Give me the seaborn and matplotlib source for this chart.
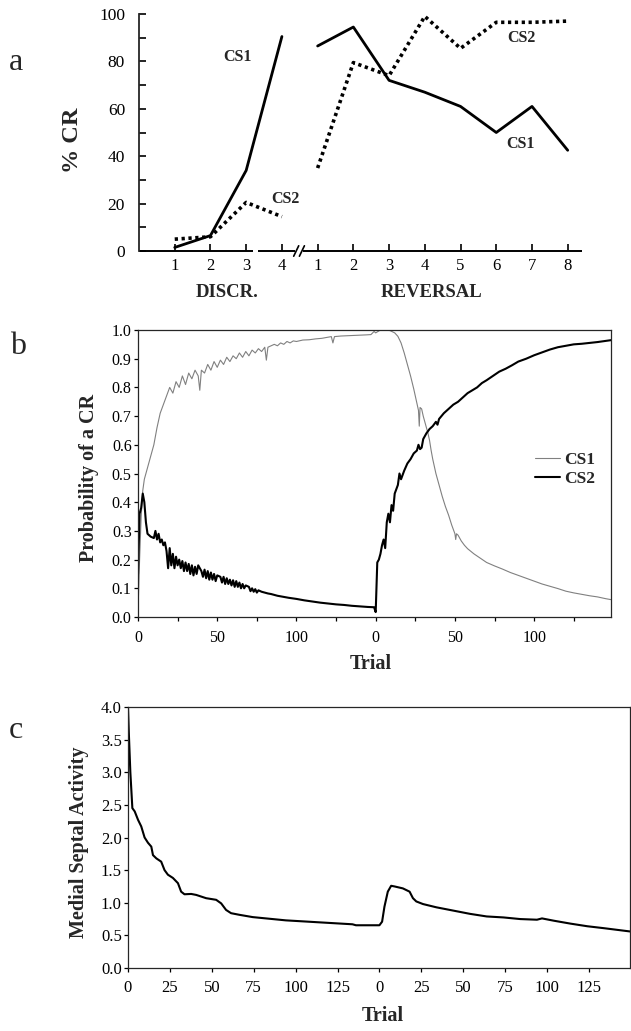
import numpy as np
import pandas as pd
import matplotlib
matplotlib.use("Agg")
import matplotlib.pyplot as plt
from matplotlib.lines import Line2D
import seaborn as sns

# ---------------- Panel a data ----------------
sessions_discr = [1, 2, 3, 4]
sessions_rev = [1, 2, 3, 4, 5, 6, 7, 8]
a_cs1_discr = [1.5, 6.5, 34, 90.5]
a_cs2_discr = [5, 6, 20.5, 14.5]
a_cs1_rev = [86.5, 94.5, 72, 67, 61, 50, 61, 42.5]
a_cs2_rev = [35, 79.5, 74, 99, 85.5, 96.5, 96.5, 97]
a_tick_labels = ["1", "2", "3", "4", "1", "2", "3", "4", "5", "6", "7", "8"]

# ---------------- Panel b data ----------------
b_cs1_discr_t = [0, 1, 2, 3, 4, 6, 8, 10, 12, 14, 16, 18, 20, 22, 24, 26, 28, 30, 32, 34, 36, 38, 39,
                 40, 42, 44, 46, 48, 50, 52, 54, 56, 58, 60, 62, 64, 66, 68, 70, 72, 74, 76, 78, 80, 81,
                 82, 84, 86, 88, 90, 92, 94, 96, 98, 100, 104, 108, 112, 116, 120, 122, 123, 124, 128,
                 132, 136, 140, 144, 147, 149]
b_cs1_discr_v = [0.02, 0.2, 0.35, 0.44, 0.48, 0.52, 0.56, 0.60, 0.66, 0.71, 0.74, 0.77, 0.80, 0.78, 0.82,
                 0.80, 0.84, 0.81, 0.85, 0.83, 0.86, 0.84, 0.79, 0.86, 0.85, 0.88, 0.86, 0.89, 0.87, 0.895,
                 0.88, 0.905, 0.89, 0.91, 0.90, 0.92, 0.905, 0.925, 0.91, 0.93, 0.92, 0.935, 0.925, 0.94,
                 0.895, 0.94, 0.945, 0.95, 0.945, 0.955, 0.95, 0.96, 0.955, 0.962, 0.96, 0.965, 0.966,
                 0.969, 0.971, 0.975, 0.977, 0.955, 0.977, 0.979, 0.98, 0.981, 0.982, 0.983, 0.984, 0.995]
b_cs2_discr_t = [0, 1, 2, 3, 4, 5, 6, 8, 10, 11, 12, 13, 14, 15, 16, 17, 18, 19, 20, 21, 22, 23, 24, 25,
                 26, 27, 28, 29, 30, 31, 32, 33, 34, 35, 36, 37, 38, 40, 41, 42, 43, 44, 45, 46, 47, 48,
                 49, 50, 52, 53, 54, 55, 56, 57, 58, 59, 60, 61, 62, 63, 64, 65, 66, 67, 68, 70, 71, 72,
                 73, 74, 75, 76, 78, 80, 82, 84, 86, 88, 90, 95, 100, 105, 110, 115, 120, 125, 130, 135,
                 140, 145, 149]
b_cs2_discr_v = [0.15, 0.36, 0.38, 0.43, 0.40, 0.33, 0.29, 0.28, 0.275, 0.30, 0.27, 0.29, 0.26, 0.27,
                 0.25, 0.26, 0.23, 0.17, 0.24, 0.18, 0.22, 0.17, 0.21, 0.18, 0.20, 0.17, 0.195, 0.16, 0.19,
                 0.16, 0.185, 0.15, 0.18, 0.145, 0.175, 0.15, 0.18, 0.16, 0.14, 0.165, 0.135, 0.16, 0.13,
                 0.155, 0.13, 0.15, 0.125, 0.145, 0.14, 0.12, 0.14, 0.115, 0.135, 0.115, 0.13, 0.11,
                 0.128, 0.105, 0.125, 0.105, 0.12, 0.10, 0.115, 0.10, 0.11, 0.105, 0.09, 0.10, 0.088,
                 0.097, 0.085, 0.093, 0.088, 0.085, 0.082, 0.08, 0.077, 0.074, 0.072, 0.067, 0.063,
                 0.058, 0.054, 0.05, 0.047, 0.044, 0.042, 0.039, 0.037, 0.035, 0.034]
b_cs1_rev_t = [0, 3, 6, 9, 12, 14, 16, 18, 20, 22, 24, 26, 27, 27.5, 28, 29, 30, 31, 32, 33, 34, 35, 36,
               38, 40, 42, 44, 46, 48, 50, 50.5, 51, 52, 54, 56, 58, 62, 66, 70, 75, 80, 85, 90, 95,
               100, 105, 110, 115, 120, 125, 130, 135, 140, 145, 149]
b_cs1_rev_v = [0.99, 1.0, 1.0, 0.998, 0.99, 0.978, 0.955, 0.92, 0.88, 0.84, 0.795, 0.745, 0.72, 0.665,
               0.73, 0.725, 0.70, 0.68, 0.66, 0.64, 0.615, 0.58, 0.55, 0.50, 0.46, 0.42, 0.385, 0.355,
               0.32, 0.29, 0.27, 0.29, 0.285, 0.265, 0.25, 0.238, 0.22, 0.205, 0.19, 0.178, 0.167,
               0.155, 0.145, 0.135, 0.125, 0.115, 0.107, 0.099, 0.09, 0.084, 0.079, 0.074, 0.07,
               0.064, 0.06]
b_cs2_rev_t = [0, 1, 2, 3, 4, 5, 6, 7, 8, 9, 10, 11, 12, 14, 15, 16, 18, 20, 22, 24, 26, 27, 28, 29, 30,
               32, 34, 36, 38, 39, 40, 43, 46, 49, 52, 55, 58, 61, 64, 67, 70, 74, 78, 82, 86, 90, 95,
               100, 105, 110, 115, 120, 125, 130, 135, 140, 145, 149]
b_cs2_rev_v = [0.017, 0.19, 0.20, 0.22, 0.25, 0.27, 0.24, 0.33, 0.36, 0.33, 0.39, 0.37, 0.43, 0.46,
               0.50, 0.48, 0.51, 0.535, 0.55, 0.57, 0.58, 0.60, 0.585, 0.59, 0.62, 0.64, 0.655, 0.665,
               0.68, 0.67, 0.69, 0.71, 0.725, 0.74, 0.75, 0.765, 0.78, 0.79, 0.80, 0.815, 0.825, 0.84,
               0.855, 0.865, 0.877, 0.89, 0.90, 0.912, 0.922, 0.932, 0.94, 0.945, 0.95, 0.952, 0.955,
               0.958, 0.962, 0.965]

# ---------------- Panel c data ----------------
c_discr_t = [0, 0.5, 1.4, 2.6, 4, 6, 7.9, 9.9, 11.9, 13.9, 14.9, 16.9, 19.8, 21.8, 23.8, 26.8, 29.8,
             31.7, 33.7, 37.7, 40.7, 46.6, 52.6, 55.6, 58.5, 61.5, 66.5, 74.4, 84.3, 94.2, 104.2, 114,
             124, 133.9, 136, 149]
c_discr_v = [4.0, 3.6, 3.0, 2.45, 2.4, 2.27, 2.17, 2.0, 1.92, 1.86, 1.73, 1.68, 1.63, 1.50, 1.43, 1.38,
             1.30, 1.17, 1.13, 1.135, 1.12, 1.07, 1.045, 0.99, 0.89, 0.84, 0.815, 0.78, 0.755, 0.73,
             0.715, 0.70, 0.685, 0.67, 0.655, 0.655]
c_rev_t = [0, 1.6, 3, 5, 7, 9, 14, 18, 20, 22, 26, 34, 44, 54, 64, 74, 84, 94, 97, 104, 114, 124, 134,
           149.5]
c_rev_v = [0.655, 0.71, 0.94, 1.17, 1.26, 1.25, 1.22, 1.17, 1.07, 1.02, 0.98, 0.93, 0.88, 0.83, 0.79,
           0.775, 0.75, 0.74, 0.76, 0.725, 0.68, 0.64, 0.61, 0.56]

PHASE_LEN = 150
N_DISCR = len(sessions_discr)

sns.set_theme(style="ticks")
plt.rcParams['font.family'] = ['Liberation Serif', 'DejaVu Serif']
plt.rcParams['axes.linewidth'] = 1.0
plt.rcParams['xtick.color'] = 'black'
plt.rcParams['ytick.color'] = 'black'

W, H = 631, 1031
fig = plt.figure(figsize=(W / 100, H / 100), dpi=100)


def rect(l, t, r, b):
    return [l / W, 1 - b / H, (r - l) / W, (b - t) / H]


# ================= Panel a =================
axa = fig.add_axes(rect(139, 14, 582, 251))
xd = np.array(sessions_discr, dtype=float)
xr = np.array(sessions_rev, dtype=float) + N_DISCR
sns.lineplot(x=xd, y=a_cs1_discr, ax=axa, color='black', lw=2.0)
sns.lineplot(x=xd, y=a_cs2_discr, ax=axa, color='black', lw=2.6, ls=(0, (0.9, 1.0)))
sns.lineplot(x=xr, y=a_cs1_rev, ax=axa, color='black', lw=2.0)
sns.lineplot(x=xr, y=a_cs2_rev, ax=axa, color='black', lw=2.6, ls=(0, (0.9, 1.0)))
axa.set_xlim(0, 12.4)
axa.set_ylim(0, 100)
for s in ['top', 'right', 'bottom']:
    axa.spines[s].set_visible(False)
axa.spines['left'].set_linewidth(1.3)
# broken x axis line
kw = dict(color='black', lw=1.4, clip_on=False, solid_capstyle='butt')
axa.plot([0, 3.18], [0, 0], **kw)
axa.plot([3.32, 4.36], [0, 0], **kw)
axa.plot([4.33, 4.47], [-2.2, 2.2], color='black', lw=1.2, clip_on=False)
axa.plot([4.49, 4.63], [-2.2, 2.2], color='black', lw=1.2, clip_on=False)
axa.plot([4.60, 12.4], [0, 0], **kw)
allx = np.concatenate([xd, xr])
axa.set_xticks(allx)
axa.set_xticklabels(a_tick_labels)
axa.tick_params(axis='x', direction='in', length=5, width=1.2, pad=5, labelsize=12)
axa.set_yticks([0, 20, 40, 60, 80, 100])
axa.set_yticks([10, 30, 50, 70, 90], minor=True)
axa.tick_params(axis='y', which='both', direction='in', length=5, width=1.2, pad=10, labelsize=12.5)
axa.set_xlabel('')
axa.set_ylabel('')
tb = dict(fontweight='bold', fontsize=11.5, ha='center', va='center')
axa.text(2.77, 82, 'CS1', **tb)
axa.text(4.09, 21.8, 'CS2', **tb)
axa.text(10.7, 90, 'CS2', **tb)
axa.text(10.68, 45, 'CS1', **tb)
axa.text(2.47, -17.5, 'DISCR.', fontweight='bold', fontsize=13.5, ha='center', va='center', clip_on=False)
axa.text(8.2, -17.5, 'REVERSAL', fontweight='bold', fontsize=13.5, ha='center', va='center', clip_on=False)

# ================= Panel b =================
axb = fig.add_axes(rect(138, 330, 611, 617))
cs1_x = np.concatenate([b_cs1_discr_t, np.array(b_cs1_rev_t) + PHASE_LEN])
cs1_y = np.concatenate([b_cs1_discr_v, b_cs1_rev_v])
cs2_x = np.concatenate([b_cs2_discr_t, np.array(b_cs2_rev_t) + PHASE_LEN])
cs2_y = np.concatenate([b_cs2_discr_v, b_cs2_rev_v])
df_b = pd.concat([
    pd.DataFrame({'trial': cs1_x, 'p': cs1_y, 'cs': 'CS1'}),
    pd.DataFrame({'trial': cs2_x, 'p': cs2_y, 'cs': 'CS2'}),
])
sns.lineplot(data=df_b[df_b.cs == 'CS1'], x='trial', y='p', ax=axb, color='0.5', lw=0.8, sort=False)
sns.lineplot(data=df_b[df_b.cs == 'CS2'], x='trial', y='p', ax=axb, color='black', lw=1.5, sort=False)
axb.set_xlim(0, 298.5)
axb.set_ylim(0, 1.0)
bt = np.arange(0, 300, 25)
axb.set_xticks(bt)
axb.set_xticklabels([str(int(t % PHASE_LEN)) if (t % 50 == 0) else '' for t in bt])
axb.set_yticks(np.arange(0, 1.01, 0.1))
axb.set_yticklabels([f'{v:.1f}' for v in np.arange(0, 1.01, 0.1)])
axb.tick_params(axis='both', direction='out', length=3, width=0.9, labelsize=11.5)
axb.tick_params(axis='x', pad=6)
axb.tick_params(axis='y', pad=1.5)
axb.set_xlabel('')
axb.set_ylabel('')
for s in axb.spines.values():
    s.set_linewidth(0.9)
handles = [Line2D([], [], color='0.5', lw=0.8), Line2D([], [], color='black', lw=1.5)]
leg = axb.legend(handles, ['CS1', 'CS2'], loc='upper left', bbox_to_anchor=(535 / W, 1 - 452 / H),
                 bbox_transform=fig.transFigure, frameon=False, borderpad=0, borderaxespad=0,
                 handlelength=1.45, handletextpad=0.2, labelspacing=0.15,
                 prop={'family': 'Liberation Serif', 'weight': 'bold', 'size': 12.5})

# ================= Panel c =================
axc = fig.add_axes(rect(128, 707, 630, 968))
c_x = np.concatenate([c_discr_t, np.array(c_rev_t) + PHASE_LEN])
c_y = np.concatenate([c_discr_v, c_rev_v])
df_c = pd.DataFrame({'trial': c_x, 'msa': c_y})
sns.lineplot(data=df_c, x='trial', y='msa', ax=axc, color='black', lw=1.5, sort=False)
axc.set_xlim(0, 299.5)
axc.set_ylim(0, 4.0)
ct = np.arange(0, 300, 25)
axc.set_xticks(ct)
axc.set_xticklabels([str(int(t % PHASE_LEN)) for t in ct])
axc.set_yticks(np.arange(0, 4.01, 0.5))
axc.set_yticklabels([f'{v:.1f}' for v in np.arange(0, 4.01, 0.5)])
axc.tick_params(axis='both', direction='out', length=3, width=0.9, labelsize=12)
axc.tick_params(axis='x', pad=6)
axc.tick_params(axis='y', pad=1.5)
axc.set_xlabel('')
axc.set_ylabel('')
for s in axc.spines.values():
    s.set_linewidth(0.9)

# ================= Labels =================
def ftext(x, y, s, **kw):
    fig.text(x / W, 1 - y / H, s, **kw)

lab = dict(fontweight='bold', ha='center', va='center')
ftext(72, 140, '% CR', rotation=90, fontsize=17.5, **lab)
ftext(89, 478, 'Probability of a CR', rotation=90, fontsize=14.5, **lab)
ftext(371, 664, 'Trial', fontsize=14.5, **lab)
ftext(79, 842, 'Medial Septal Activity', rotation=90, fontsize=14.5, **lab)
ftext(383, 1016, 'Trial', fontsize=14.5, **lab)
ftext(16, 63, 'a', fontsize=23, ha='center', va='center')
ftext(18, 347, 'b', fontsize=23, ha='center', va='center')
ftext(16, 730, 'c', fontsize=23, ha='center', va='center')

fig.savefig('out.png', dpi=100)
